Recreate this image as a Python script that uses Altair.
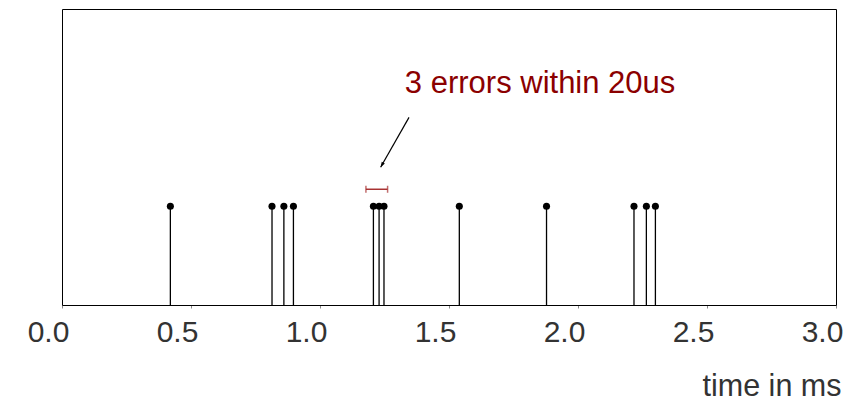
import altair as alt
import pandas as pd

# Error event times (ms) and their stem height
error_times = [0.42, 0.814, 0.860, 0.897, 1.207, 1.229, 1.248, 1.54, 1.878, 2.217, 2.265, 2.300]
stem_level = 1.0

# Highlighted burst window
window_start = [1.178]
window_end = [1.262]
window_level = [1.173]

# Annotation text and arrow
note_text = ["3 errors within 20us"]
note_x = [1.853]
note_y = [2.24]
arrow_from = (1.345, 1.902)
arrow_to = (1.235, 1.396)

x_ticks = [0.0, 0.5, 1.0, 1.5, 2.0, 2.5, 3.0]

W, H = 774, 296
dark_red = "#8b0000"

events = pd.DataFrame({"t": error_times, "v": [stem_level] * len(error_times), "base": [0.0] * len(error_times)})

x_scale = alt.Scale(domain=[0, 3], nice=False, zero=False)
y_scale = alt.Scale(domain=[0, 3], nice=False)

x_axis = alt.Axis(
    values=x_ticks, format=".1f", title="time in ms",
    labelFontSize=30, labelFont="Liberation Sans", labelColor="#333333",
    labelOffset=-14, labelPadding=9, labelFlush=False,
    tickSize=3, tickColor="#888888", domainColor="black", domainWidth=1,
    titleFontSize=30.5, titleFont="Liberation Sans", titleFontWeight="normal",
    titleColor="#333333", titleAnchor="end", titleAlign="right",
    titleX=W + 5, titleY=90, titleBaseline="alphabetic", grid=False,
)

base = alt.Chart(events)

stems = base.mark_rule(color="black", strokeWidth=1.3).encode(
    x=alt.X("t:Q", scale=x_scale, axis=x_axis),
    y=alt.Y("base:Q", scale=y_scale, axis=None),
    y2="v:Q",
)

dots = base.mark_circle(color="black", size=50, opacity=1).encode(
    x=alt.X("t:Q", scale=x_scale),
    y=alt.Y("v:Q", scale=y_scale),
)

win = pd.DataFrame({"a": window_start, "b": window_end, "y": window_level})
win_line = alt.Chart(win).mark_rule(color="#a83232", strokeWidth=1.5).encode(
    x=alt.X("a:Q", scale=x_scale), x2="b:Q", y=alt.Y("y:Q", scale=y_scale)
)
caps = pd.DataFrame({"x": window_start + window_end, "y": window_level * 2})
win_caps = alt.Chart(caps).mark_tick(color="#a83232", orient="vertical", size=7, thickness=1.5).encode(
    x=alt.X("x:Q", scale=x_scale), y=alt.Y("y:Q", scale=y_scale)
)

note = alt.Chart(pd.DataFrame({"x": note_x, "y": note_y, "s": note_text})).mark_text(
    color=dark_red, fontSize=31, font="Liberation Sans", align="center", baseline="middle"
).encode(x=alt.X("x:Q", scale=x_scale), y=alt.Y("y:Q", scale=y_scale), text="s:N")

arrow_df = pd.DataFrame({"x": [arrow_from[0], arrow_to[0]], "y": [arrow_from[1], arrow_to[1]], "o": [0, 1]})
arrow_line = alt.Chart(arrow_df).mark_line(color="black", strokeWidth=1.2).encode(
    x=alt.X("x:Q", scale=x_scale), y=alt.Y("y:Q", scale=y_scale), order="o:Q"
)
head = alt.Chart(pd.DataFrame({"x": [arrow_to[0]], "y": [arrow_to[1]]})).mark_point(
    shape="M0,0L-0.4,1.2L0.4,1.2Z", filled=True, color="black", opacity=1, size=81, angle=209.5
).encode(x=alt.X("x:Q", scale=x_scale), y=alt.Y("y:Q", scale=y_scale))

chart = alt.layer(stems, dots, win_line, win_caps, arrow_line, head, note).properties(
    width=W, height=H,
    autosize=alt.AutoSizeParams(type="none"),
    padding={"left": 62, "top": 9, "right": 28, "bottom": 96},
    background="white",
).configure_view(stroke="black", strokeWidth=1)

chart.save("out.html", embed_options={"renderer": "svg", "actions": False})
